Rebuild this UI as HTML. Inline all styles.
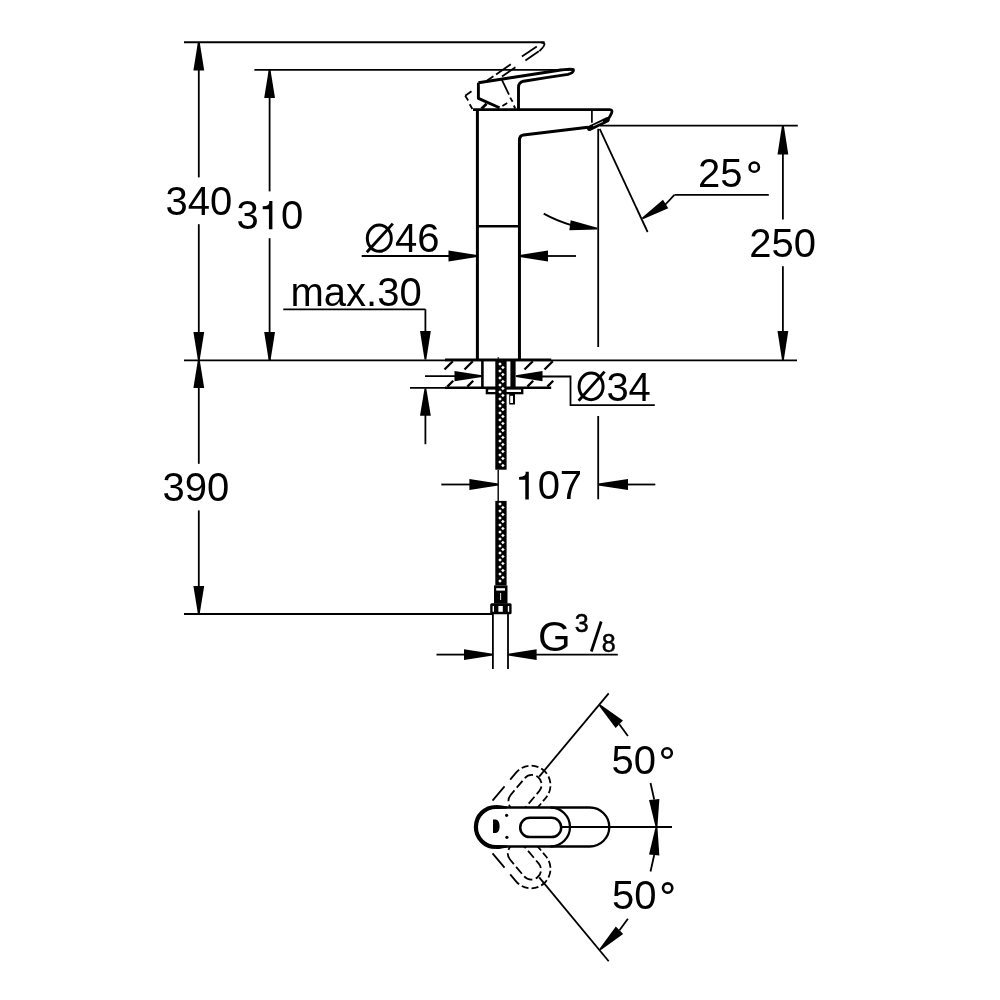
<!DOCTYPE html>
<html><head><meta charset="utf-8"><style>
html,body{margin:0;padding:0;background:#fff;}
svg{display:block;will-change:transform;}
text{font-family:"Liberation Sans", sans-serif;fill:#000;}
</style></head><body>
<svg width="1000" height="1000" viewBox="0 0 1000 1000" stroke="#000" stroke-linecap="butt">
<line x1="184" y1="42.3" x2="544.6" y2="42.3" stroke-width="1.9"/>
<line x1="198.8" y1="42" x2="198.8" y2="177.4" stroke-width="1.8"/>
<line x1="198.8" y1="224.2" x2="198.8" y2="360" stroke-width="1.8"/>
<path d="M197.90 42.20 L199.70 42.20 L204.20 70.50 L193.40 70.50 Z" fill="#000" stroke="none"/>
<path d="M199.70 360.00 L197.90 360.00 L193.40 332.00 L204.20 332.00 Z" fill="#000" stroke="none"/>
<text x="165.48" y="215.41" font-size="40" stroke="none">340</text>
<line x1="254.4" y1="69.9" x2="573" y2="69.9" stroke-width="1.8"/>
<line x1="269.6" y1="69.9" x2="269.6" y2="191.4" stroke-width="1.8"/>
<line x1="269.6" y1="238.2" x2="269.6" y2="360" stroke-width="1.8"/>
<path d="M268.70 69.90 L270.50 69.90 L275.00 98.00 L264.20 98.00 Z" fill="#000" stroke="none"/>
<path d="M270.50 360.40 L268.70 360.40 L264.20 332.00 L275.00 332.00 Z" fill="#000" stroke="none"/>
<text x="236.48" y="228.81" font-size="40" stroke="none">3</text>
<path d="M272.4 201 V229.2 H268.9 V209.18 Q266.4 209.18 262.7 209.18 V206.36 Q270.4 206.08 269.2 201 Z" fill="#000" stroke="none"/>
<text x="281.04" y="228.81" font-size="40" stroke="none">0</text>
<line x1="184" y1="360.4" x2="797" y2="360.4" stroke-width="1.9"/>
<line x1="198.8" y1="360" x2="198.8" y2="463.8" stroke-width="1.8"/>
<line x1="198.8" y1="510.4" x2="198.8" y2="613.8" stroke-width="1.8"/>
<path d="M197.90 360.00 L199.70 360.00 L204.20 388.00 L193.40 388.00 Z" fill="#000" stroke="none"/>
<path d="M199.70 613.80 L197.90 613.80 L193.40 586.00 L204.20 586.00 Z" fill="#000" stroke="none"/>
<text x="162.48" y="501.41" font-size="40" stroke="none">390</text>
<line x1="184" y1="614" x2="493" y2="614" stroke-width="1.9"/>
<line x1="477.4" y1="109.8" x2="477.4" y2="360.4" stroke-width="3.0"/>
<path d="M519.45 360.4 V140.5 Q519.45 135.6 523.4 135.1 L588 127.2" stroke-width="3.0" fill="none" />
<line x1="477.4" y1="226.3" x2="519.45" y2="226.3" stroke-width="2.4"/>
<path d="M473 109.6 H609.5 Q613 109.8 611.6 113 Q610 117 607.5 120" stroke-width="2.8" fill="none" />
<path d="M589.5 128.3 L607 119.8" stroke-width="5.2" fill="none" stroke-linecap="round"/>
<line x1="593" y1="126" x2="603" y2="121.5" stroke="#fff" stroke-width="0.8"/>
<line x1="591.9" y1="110" x2="591.9" y2="122.8" stroke-width="1.7"/>
<path d="M478.4 82.8 L556 70.7 Q571 68.3 573.3 69.6 Q574.5 72.5 568 74.4 Q545 77.8 523.5 81.2 Q518.5 82.4 518.5 87.5 V109.5 M478.4 82.8 V98.4 L499.5 107.8" stroke-width="2.9" fill="none" stroke-linejoin="round"/>
<line x1="481.5" y1="108.8" x2="486.6" y2="103.8" stroke-width="2.8"/>
<line x1="541" y1="42.3" x2="544.8" y2="43.5" stroke-width="1.8"/>
<line x1="544.8" y1="43.5" x2="543.3" y2="47" stroke-width="1.8"/>
<line x1="543.3" y1="47" x2="539.4" y2="51.2" stroke-width="1.8"/>
<line x1="521.9" y1="56.5" x2="536.8" y2="46.6" stroke-width="1.8"/>
<line x1="525.4" y1="60.4" x2="538.8" y2="51.3" stroke-width="1.8"/>
<line x1="496.1" y1="74.5" x2="510.8" y2="64.3" stroke-width="1.8"/>
<line x1="486.8" y1="80.8" x2="493.4" y2="76.3" stroke-width="1.8"/>
<line x1="502" y1="76.6" x2="515.4" y2="67.2" stroke-width="1.8"/>
<line x1="465.2" y1="95.8" x2="471.5" y2="91.3" stroke-width="1.8"/>
<line x1="465.2" y1="95.8" x2="468.2" y2="100.6" stroke-width="1.8"/>
<line x1="469.7" y1="104.2" x2="472.4" y2="109" stroke-width="1.8"/>
<line x1="501.8" y1="79.6" x2="509" y2="94.6" stroke-width="1.8"/>
<line x1="510.2" y1="97.6" x2="512.6" y2="101.8" stroke-width="1.8"/>
<line x1="513.8" y1="105.5" x2="515.2" y2="108.5" stroke-width="1.8"/>
<line x1="502.4" y1="106" x2="507.2" y2="103" stroke-width="1.8"/>
<line x1="600" y1="125.6" x2="797.8" y2="125.6" stroke-width="1.8"/>
<line x1="782.9" y1="125.6" x2="782.9" y2="219.5" stroke-width="1.8"/>
<line x1="782.9" y1="266.3" x2="782.9" y2="360" stroke-width="1.8"/>
<path d="M782.00 125.60 L783.80 125.60 L788.30 154.50 L777.50 154.50 Z" fill="#000" stroke="none"/>
<path d="M783.80 360.00 L782.00 360.00 L777.50 331.00 L788.30 331.00 Z" fill="#000" stroke="none"/>
<text x="749.29" y="256.91" font-size="40" stroke="none">250</text>
<line x1="598.2" y1="128.8" x2="598.2" y2="347" stroke-width="1.8"/>
<line x1="599.7" y1="128.8" x2="647.6" y2="232" stroke-width="1.8"/>
<line x1="674.4" y1="194.8" x2="768.8" y2="194.8" stroke-width="1.8"/>
<line x1="674.4" y1="194.8" x2="664" y2="206" stroke-width="1.8"/>
<path d="M642.87 219.16 L641.93 217.64 L662.96 199.75 L668.24 208.25 Z" fill="#000" stroke="none"/>
<text x="698.09" y="187.41" font-size="40" stroke="none">25</text>
<circle cx="754.25" cy="167.15" r="4.65" fill="none" stroke-width="2.6"/>
<path d="M543.7 213.6 Q556 220.5 572 225.3" stroke-width="1.8" fill="none" />
<path d="M597.41 227.81 L597.19 229.59 L569.36 230.16 L570.64 220.24 Z" fill="#000" stroke="none"/>
<line x1="361.7" y1="256" x2="450" y2="256" stroke-width="1.8"/>
<path d="M477.00 255.10 L477.00 256.90 L448.50 261.40 L448.50 250.60 Z" fill="#000" stroke="none"/>
<line x1="545" y1="256" x2="576" y2="256" stroke-width="1.8"/>
<path d="M519.50 256.90 L519.50 255.10 L548.00 250.60 L548.00 261.40 Z" fill="#000" stroke="none"/>
<ellipse cx="379.30" cy="238.20" rx="12.00" ry="13.10" fill="none" stroke-width="3.0"/>
<line x1="366.8" y1="252.3" x2="392.8" y2="223.6" stroke-width="2.8499999999999996"/>
<text x="395.08" y="252.01" font-size="40" stroke="none">46</text>
<text x="290.54" y="305.61" font-size="40" stroke="none">max.30</text>
<line x1="283.3" y1="309.3" x2="425.4" y2="309.3" stroke-width="1.8"/>
<line x1="425.4" y1="309.3" x2="425.4" y2="335" stroke-width="1.8"/>
<path d="M426.30 359.50 L424.50 359.50 L420.00 331.00 L430.80 331.00 Z" fill="#000" stroke="none"/>
<line x1="410" y1="387.8" x2="445" y2="387.8" stroke-width="1.8"/>
<line x1="445" y1="387.8" x2="551.2" y2="387.8" stroke-width="2.6"/>
<line x1="445" y1="359.9" x2="551.2" y2="359.9" stroke-width="2.6"/>
<line x1="452.8" y1="361.2" x2="444.5" y2="369.5" stroke-width="2.3"/>
<line x1="472.8" y1="361.2" x2="464.5" y2="369.5" stroke-width="2.3"/>
<line x1="453.2" y1="380.8" x2="447.4" y2="386.6" stroke-width="2.3"/>
<line x1="473.2" y1="380.8" x2="467.4" y2="386.6" stroke-width="2.3"/>
<line x1="532.8" y1="361.2" x2="524.5" y2="369.5" stroke-width="2.3"/>
<line x1="552.8" y1="361.2" x2="544.5" y2="369.5" stroke-width="2.3"/>
<line x1="533.2" y1="380.8" x2="527.4" y2="386.6" stroke-width="2.3"/>
<line x1="553.2" y1="380.8" x2="547.4" y2="386.6" stroke-width="2.3"/>
<line x1="482.4" y1="359" x2="482.4" y2="388.5" stroke-width="2.6"/>
<rect x="510.4" y="359" width="5.2" height="29.5" fill="#000" stroke="none"/>
<line x1="498.2" y1="357" x2="498.2" y2="362" stroke-width="1.0"/>
<rect x="485.7" y="387.7" width="37.7" height="6.6" fill="#000" stroke="none"/>
<rect x="488.2" y="389.6" width="32.8" height="2.4" fill="#fff" stroke="none"/>
<rect x="509.2" y="393" width="5.8" height="11.5" fill="#000" stroke="none"/>
<rect x="510.2" y="395.8" width="2.8" height="7.2" fill="#fff" stroke="none"/>
<line x1="425" y1="376.2" x2="458" y2="376.2" stroke-width="1.8"/>
<path d="M482.00 375.30 L482.00 377.10 L454.50 381.30 L454.50 371.10 Z" fill="#000" stroke="none"/>
<path d="M515.80 377.10 L515.80 375.30 L542.50 371.10 L542.50 381.30 Z" fill="#000" stroke="none"/>
<path d="M540 376.5 H570.5 V405.1 H654.8" stroke-width="1.8" fill="none" />
<ellipse cx="591.10" cy="386.43" rx="12.00" ry="13.32" fill="none" stroke-width="3.0"/>
<line x1="578.6" y1="400.75" x2="604.6" y2="371.6" stroke-width="2.8499999999999996"/>
<text x="606.38" y="400.86" font-size="40" stroke="none">34</text>
<line x1="425.4" y1="444.2" x2="425.4" y2="412" stroke-width="1.8"/>
<path d="M424.50 388.50 L426.30 388.50 L430.80 415.70 L420.00 415.70 Z" fill="#000" stroke="none"/>
<rect x="495.3" y="361" width="11.3" height="108.69999999999999" fill="#000" stroke="none"/>
<rect x="498.75" y="362.75" width="2.5" height="2.5" transform="rotate(45 500.0 364.0)" fill="#fff" stroke="none"/>
<rect x="501.65" y="366.25" width="2.5" height="2.5" transform="rotate(45 502.9 367.5)" fill="#fff" stroke="none"/>
<rect x="498.75" y="369.75" width="2.5" height="2.5" transform="rotate(45 500.0 371.0)" fill="#fff" stroke="none"/>
<rect x="501.65" y="373.25" width="2.5" height="2.5" transform="rotate(45 502.9 374.5)" fill="#fff" stroke="none"/>
<rect x="498.75" y="376.75" width="2.5" height="2.5" transform="rotate(45 500.0 378.0)" fill="#fff" stroke="none"/>
<rect x="501.65" y="380.25" width="2.5" height="2.5" transform="rotate(45 502.9 381.5)" fill="#fff" stroke="none"/>
<rect x="498.75" y="383.75" width="2.5" height="2.5" transform="rotate(45 500.0 385.0)" fill="#fff" stroke="none"/>
<rect x="501.65" y="387.25" width="2.5" height="2.5" transform="rotate(45 502.9 388.5)" fill="#fff" stroke="none"/>
<rect x="498.75" y="390.75" width="2.5" height="2.5" transform="rotate(45 500.0 392.0)" fill="#fff" stroke="none"/>
<rect x="501.65" y="394.25" width="2.5" height="2.5" transform="rotate(45 502.9 395.5)" fill="#fff" stroke="none"/>
<rect x="498.75" y="397.75" width="2.5" height="2.5" transform="rotate(45 500.0 399.0)" fill="#fff" stroke="none"/>
<rect x="501.65" y="401.25" width="2.5" height="2.5" transform="rotate(45 502.9 402.5)" fill="#fff" stroke="none"/>
<rect x="498.75" y="404.75" width="2.5" height="2.5" transform="rotate(45 500.0 406.0)" fill="#fff" stroke="none"/>
<rect x="501.65" y="408.25" width="2.5" height="2.5" transform="rotate(45 502.9 409.5)" fill="#fff" stroke="none"/>
<rect x="498.75" y="411.75" width="2.5" height="2.5" transform="rotate(45 500.0 413.0)" fill="#fff" stroke="none"/>
<rect x="501.65" y="415.25" width="2.5" height="2.5" transform="rotate(45 502.9 416.5)" fill="#fff" stroke="none"/>
<rect x="498.75" y="418.75" width="2.5" height="2.5" transform="rotate(45 500.0 420.0)" fill="#fff" stroke="none"/>
<rect x="501.65" y="422.25" width="2.5" height="2.5" transform="rotate(45 502.9 423.5)" fill="#fff" stroke="none"/>
<rect x="498.75" y="425.75" width="2.5" height="2.5" transform="rotate(45 500.0 427.0)" fill="#fff" stroke="none"/>
<rect x="501.65" y="429.25" width="2.5" height="2.5" transform="rotate(45 502.9 430.5)" fill="#fff" stroke="none"/>
<rect x="498.75" y="432.75" width="2.5" height="2.5" transform="rotate(45 500.0 434.0)" fill="#fff" stroke="none"/>
<rect x="501.65" y="436.25" width="2.5" height="2.5" transform="rotate(45 502.9 437.5)" fill="#fff" stroke="none"/>
<rect x="498.75" y="439.75" width="2.5" height="2.5" transform="rotate(45 500.0 441.0)" fill="#fff" stroke="none"/>
<rect x="501.65" y="443.25" width="2.5" height="2.5" transform="rotate(45 502.9 444.5)" fill="#fff" stroke="none"/>
<rect x="498.75" y="446.75" width="2.5" height="2.5" transform="rotate(45 500.0 448.0)" fill="#fff" stroke="none"/>
<rect x="501.65" y="450.25" width="2.5" height="2.5" transform="rotate(45 502.9 451.5)" fill="#fff" stroke="none"/>
<rect x="498.75" y="453.75" width="2.5" height="2.5" transform="rotate(45 500.0 455.0)" fill="#fff" stroke="none"/>
<rect x="501.65" y="457.25" width="2.5" height="2.5" transform="rotate(45 502.9 458.5)" fill="#fff" stroke="none"/>
<rect x="498.75" y="460.75" width="2.5" height="2.5" transform="rotate(45 500.0 462.0)" fill="#fff" stroke="none"/>
<rect x="501.65" y="464.25" width="2.5" height="2.5" transform="rotate(45 502.9 465.5)" fill="#fff" stroke="none"/>
<rect x="495.3" y="500.9" width="11.3" height="84.5" fill="#000" stroke="none"/>
<rect x="498.75" y="502.65" width="2.5" height="2.5" transform="rotate(45 500.0 503.9)" fill="#fff" stroke="none"/>
<rect x="501.65" y="506.15" width="2.5" height="2.5" transform="rotate(45 502.9 507.4)" fill="#fff" stroke="none"/>
<rect x="498.75" y="509.65" width="2.5" height="2.5" transform="rotate(45 500.0 510.9)" fill="#fff" stroke="none"/>
<rect x="501.65" y="513.15" width="2.5" height="2.5" transform="rotate(45 502.9 514.4)" fill="#fff" stroke="none"/>
<rect x="498.75" y="516.65" width="2.5" height="2.5" transform="rotate(45 500.0 517.9)" fill="#fff" stroke="none"/>
<rect x="501.65" y="520.15" width="2.5" height="2.5" transform="rotate(45 502.9 521.4)" fill="#fff" stroke="none"/>
<rect x="498.75" y="523.65" width="2.5" height="2.5" transform="rotate(45 500.0 524.9)" fill="#fff" stroke="none"/>
<rect x="501.65" y="527.15" width="2.5" height="2.5" transform="rotate(45 502.9 528.4)" fill="#fff" stroke="none"/>
<rect x="498.75" y="530.65" width="2.5" height="2.5" transform="rotate(45 500.0 531.9)" fill="#fff" stroke="none"/>
<rect x="501.65" y="534.15" width="2.5" height="2.5" transform="rotate(45 502.9 535.4)" fill="#fff" stroke="none"/>
<rect x="498.75" y="537.65" width="2.5" height="2.5" transform="rotate(45 500.0 538.9)" fill="#fff" stroke="none"/>
<rect x="501.65" y="541.15" width="2.5" height="2.5" transform="rotate(45 502.9 542.4)" fill="#fff" stroke="none"/>
<rect x="498.75" y="544.65" width="2.5" height="2.5" transform="rotate(45 500.0 545.9)" fill="#fff" stroke="none"/>
<rect x="501.65" y="548.15" width="2.5" height="2.5" transform="rotate(45 502.9 549.4)" fill="#fff" stroke="none"/>
<rect x="498.75" y="551.65" width="2.5" height="2.5" transform="rotate(45 500.0 552.9)" fill="#fff" stroke="none"/>
<rect x="501.65" y="555.15" width="2.5" height="2.5" transform="rotate(45 502.9 556.4)" fill="#fff" stroke="none"/>
<rect x="498.75" y="558.65" width="2.5" height="2.5" transform="rotate(45 500.0 559.9)" fill="#fff" stroke="none"/>
<rect x="501.65" y="562.15" width="2.5" height="2.5" transform="rotate(45 502.9 563.4)" fill="#fff" stroke="none"/>
<rect x="498.75" y="565.65" width="2.5" height="2.5" transform="rotate(45 500.0 566.9)" fill="#fff" stroke="none"/>
<rect x="501.65" y="569.15" width="2.5" height="2.5" transform="rotate(45 502.9 570.4)" fill="#fff" stroke="none"/>
<rect x="498.75" y="572.65" width="2.5" height="2.5" transform="rotate(45 500.0 573.9)" fill="#fff" stroke="none"/>
<rect x="501.65" y="576.15" width="2.5" height="2.5" transform="rotate(45 502.9 577.4)" fill="#fff" stroke="none"/>
<rect x="498.75" y="579.65" width="2.5" height="2.5" transform="rotate(45 500.0 580.9)" fill="#fff" stroke="none"/>
<line x1="498.2" y1="469.7" x2="498.2" y2="500.9" stroke-width="1.4"/>
<line x1="441.3" y1="484.5" x2="470" y2="484.5" stroke-width="1.8"/>
<path d="M498.20 483.60 L498.20 485.40 L469.40 489.90 L469.40 479.10 Z" fill="#000" stroke="none"/>
<path d="M598.20 485.40 L598.20 483.60 L628.00 479.10 L628.00 489.90 Z" fill="#000" stroke="none"/>
<line x1="626" y1="484.5" x2="655.3" y2="484.5" stroke-width="1.8"/>
<line x1="598.2" y1="416" x2="598.2" y2="499.3" stroke-width="1.8"/>
<path d="M528.8 471.8 V499.4 H525.3 V479.80 Q522.8 479.80 519.0999999999999 479.80 V477.04 Q526.8 476.77 525.5999999999999 471.8 Z" fill="#000" stroke="none"/>
<text x="537.64" y="499.01" font-size="40" stroke="none">07</text>
<rect x="494" y="585.4" width="13.5" height="18.2" fill="#000" stroke="none"/>
<rect x="496.2" y="588.2" width="8.8" height="2.4" fill="#fff" stroke="none"/>
<rect x="500.2" y="593" width="0.9" height="7" fill="#fff" stroke="none"/>
<rect x="490.2" y="603.3" width="21.4" height="11" rx="1.5" fill="#000" stroke="none"/>
<rect x="498.4" y="606" width="4.4" height="5.8" fill="#fff" stroke="none"/>
<rect x="492.6" y="606" width="1.4" height="5.8" fill="#fff" stroke="none"/>
<rect x="507.8" y="606" width="1.4" height="5.8" fill="#fff" stroke="none"/>
<line x1="492.9" y1="614" x2="492.9" y2="669" stroke-width="1.8"/>
<line x1="508" y1="614" x2="508" y2="669" stroke-width="1.8"/>
<line x1="436.5" y1="654.6" x2="466" y2="654.6" stroke-width="1.8"/>
<path d="M492.90 653.70 L492.90 655.50 L464.00 660.00 L464.00 649.20 Z" fill="#000" stroke="none"/>
<path d="M508.00 655.50 L508.00 653.70 L536.60 649.20 L536.60 660.00 Z" fill="#000" stroke="none"/>
<line x1="535" y1="654.6" x2="617.8" y2="654.6" stroke-width="1.8"/>
<text x="537.89" y="651.09" font-size="42" stroke="none">G</text>
<text x="574.80" y="631.81" font-size="25" stroke="#000" stroke-width="0.5">3</text>
<line x1="591.3" y1="651.5" x2="601.2" y2="621.5" stroke-width="2.8"/>
<text x="601.66" y="651.51" font-size="25" stroke="#000" stroke-width="0.5">8</text>
<line x1="562" y1="827" x2="671.5" y2="827" stroke-width="1.8"/>
<line x1="608.7" y1="693.4" x2="539.2" y2="776.6" stroke-width="1.8"/>
<line x1="539.2" y1="877.4" x2="608.7" y2="961.3" stroke-width="1.8"/>
<text x="611.50" y="774.21" font-size="40" stroke="none">50</text>
<circle cx="667.05" cy="753.05" r="4.75" fill="none" stroke-width="2.6"/>
<text x="611.90" y="909.21" font-size="40" stroke="none">50</text>
<circle cx="667.65" cy="888.05" r="4.65" fill="none" stroke-width="2.6"/>
<path d="M598.77 705.44 L600.03 704.16 L622.94 720.59 L615.66 728.01 Z" fill="#000" stroke="none"/>
<line x1="619.3" y1="724.3" x2="627.9" y2="736" stroke-width="1.8"/>
<path d="M657.40 826.92 L655.60 827.08 L649.02 799.93 L659.38 799.07 Z" fill="#000" stroke="none"/>
<line x1="654.2" y1="799.5" x2="650.5" y2="783" stroke-width="1.8"/>
<path d="M655.60 826.93 L657.40 827.07 L659.38 855.43 L649.02 854.57 Z" fill="#000" stroke="none"/>
<line x1="654.2" y1="855" x2="650.5" y2="871.5" stroke-width="1.8"/>
<path d="M600.63 950.24 L599.37 948.96 L615.83 926.51 L623.17 933.89 Z" fill="#000" stroke="none"/>
<line x1="619.5" y1="930.2" x2="627.9" y2="918.7" stroke-width="1.8"/>
<g transform="rotate(-50 495.9 827)"><path d="M513.9 807.5 H550.5 A19.5 19.5 0 0 1 550.5 846.5 H530" stroke-width="1.8" fill="none" stroke-dasharray="18.7 8.8 13.5 3 7 3 7 3 8 3 7 3 7 3 7 3 80"/><path d="M529.9 817.7 H551.5 A9.7 9.7 0 0 1 551.5 837.1 H529.9 A9.7 9.7 0 0 1 529.9 817.7 Z" stroke-width="1.8" fill="none" stroke-dasharray="9 3.5" stroke-dashoffset="3"/></g>
<g transform="rotate(50 495.9 827)"><path d="M513.9 846.5 H550.5 A19.5 19.5 0 0 0 550.5 807.5 H530" stroke-width="1.8" fill="none" stroke-dasharray="18.7 8.8 13.5 3 7 3 7 3 8 3 7 3 7 3 7 3 80"/><path d="M529.9 837.1 H551.5 A9.7 9.7 0 0 0 551.5 817.7 H529.9 A9.7 9.7 0 0 0 529.9 837.1 Z" stroke-width="1.8" fill="none" stroke-dasharray="9 3.5" stroke-dashoffset="3"/></g>
<path d="M495.9 807.5 H589.8 A19.5 19.5 0 0 1 589.8 846.5 H495.9 A19.5 19.5 0 0 1 495.9 807.5 Z" stroke-width="2.3" fill="#fff" />
<path d="M495.9 807 A20 20 0 0 0 495.9 847" stroke-width="4.2" fill="none" />
<path d="M495.9 804.9 C500 804.8 503 805.6 507 806.4 L507 808.6 L495.9 809.1 Z" fill="#000" stroke="none"/>
<path d="M495.9 849.1 C500 849.2 503 848.4 507 847.6 L507 845.4 L495.9 844.9 Z" fill="#000" stroke="none"/>
<path d="M550.5 807.5 A19.5 19.5 0 0 1 550.5 846.5" stroke-width="2.3" fill="none" />
<path d="M529.9 817.7 H551.5 A9.7 9.7 0 0 1 551.5 837.1 H529.9 A9.7 9.7 0 0 1 529.9 817.7 Z" stroke-width="2.5" fill="none" />
<line x1="561.2" y1="827" x2="672" y2="827" stroke-width="1.8"/>
<circle cx="506.6" cy="815.3" r="1.6" fill="#000" stroke="none"/>
<circle cx="506.9" cy="837.3" r="1.6" fill="#000" stroke="none"/>
<path d="M493 819.5 H496 Q499.6 820.5 499.6 826.3 Q499.6 832.1 496 833.1 H493 Z" fill="#000" stroke="none"/>
</svg>
</body></html>
